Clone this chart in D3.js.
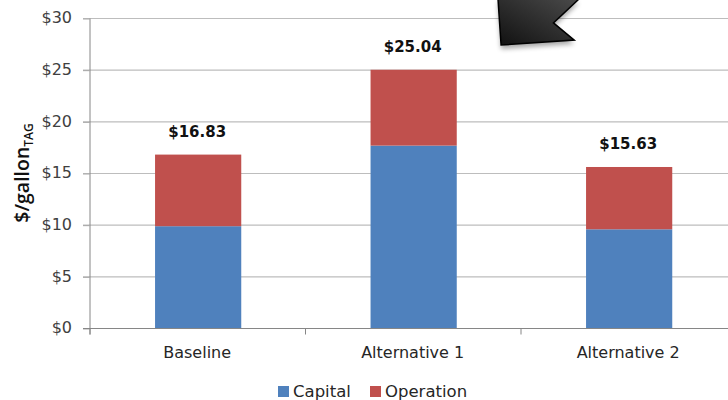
<!DOCTYPE html>
<html>
<head>
<meta charset="utf-8">
<script src="https://cdn.jsdelivr.net/npm/d3@7"></script>
<style>
html,body{margin:0;padding:0;background:#fff;}
svg{display:block;}
text{font-family:"DejaVu Sans",sans-serif;}
</style>
</head>
<body>
<div id="chart"></div>
<script>
const categories = ["Baseline", "Alternative 1", "Alternative 2"];
const capital = [9.9, 17.7, 9.6];
const operation = [6.93, 7.34, 6.03];
const totals = [16.83, 25.04, 15.63];
const seriesNames = ["Capital", "Operation"];
const seriesColors = ["#4f81bd", "#c0504d"];
const yTicks = [0, 5, 10, 15, 20, 25, 30];

const width = 728, height = 400;
const axisLeft = 90;
const svg = d3.select("#chart").append("svg").attr("width", width).attr("height", height);

const x = d3.scaleBand().domain(categories).range([axisLeft + 0.4, 736.9]).paddingInner(0.6).paddingOuter(0.3);
const y = d3.scaleLinear().domain([0, 30]).range([328.5, 18.5]);

// horizontal gridlines
svg.append("g").selectAll("line").data(yTicks.filter(d => d > 0)).join("line")
  .attr("x1", axisLeft - 7).attr("x2", width)
  .attr("y1", d => y(d)).attr("y2", d => y(d))
  .attr("stroke", "#bdbdbd").attr("stroke-width", 1.2);

// stacked bars
const stack = d3.stack().keys([0, 1]).value((row, k) => row[k]);
const rows = categories.map((c, i) => [capital[i], operation[i]]);
stack(rows).forEach((layer, k) => {
  svg.append("g").selectAll("rect").data(layer).join("rect")
    .attr("x", (d, i) => x(categories[i]))
    .attr("width", x.bandwidth())
    .attr("y", d => y(d[1]))
    .attr("height", d => y(d[0]) - y(d[1]))
    .attr("fill", seriesColors[k]);
});

// value axis
const yAxis = d3.axisLeft(y).tickValues(yTicks).tickFormat(d => "$" + d).tickSize(7).tickPadding(11);
const gy = svg.append("g").attr("transform", `translate(${axisLeft},0)`).call(yAxis);
gy.select(".domain").attr("stroke", "#868686").attr("d", `M0,${y(30)}V${y(0) + 6}`);
gy.selectAll(".tick line").attr("stroke", "#a8a8a8");
gy.selectAll("text").attr("font-size", 16).attr("fill", "#404040").attr("dy", "0.28em")
  .attr("font-family", '"DejaVu Sans",sans-serif');

// category axis
const step = x.step();
const gx = svg.append("g").attr("transform", `translate(0,${y(0)})`);
gx.append("line").attr("x1", axisLeft - 7).attr("x2", width).attr("stroke", "#868686").attr("stroke-width", 1.2);
gx.selectAll("line.sep").data(categories).join("line").attr("class", "sep")
  .attr("x1", (d, i) => axisLeft + step * i).attr("x2", (d, i) => axisLeft + step * i)
  .attr("y1", 0).attr("y2", 6).attr("stroke", "#868686");
gx.selectAll("text").data(categories).join("text")
  .attr("x", d => x(d) + x.bandwidth() / 2 - 1).attr("y", 29)
  .attr("text-anchor", "middle").attr("font-size", 16).attr("fill", "#262626")
  .text(d => d);

// totals above each bar
svg.append("g").selectAll("text").data(totals).join("text")
  .attr("x", (d, i) => x(categories[i]) + x.bandwidth() / 2 - 1)
  .attr("y", d => y(d) - 18)
  .attr("text-anchor", "middle").attr("font-size", 15).attr("font-weight", 700).attr("fill", "#111")
  .text(d => "$" + d.toFixed(2));

// axis title with subscript
const title = svg.append("text").attr("transform", "translate(29,173) rotate(-90)")
  .attr("text-anchor", "middle").attr("font-size", 19.5).attr("font-weight", 600)
  .attr("fill", "#111").style("font-family", '"Open Sans",sans-serif');
title.append("tspan").text("$/gallon");
title.append("tspan").attr("font-size", 12).attr("dy", 4).text("TAG");

// legend
const legendX = [278, 370];
const legend = svg.append("g").selectAll("g").data(seriesNames).join("g")
  .attr("transform", (d, i) => `translate(${legendX[i]},386)`);
legend.append("rect").attr("width", 11).attr("height", 11).attr("fill", (d, i) => seriesColors[i]);
legend.append("text").attr("x", 15).attr("y", 11).attr("font-size", 16.5).attr("fill", "#262626").text(d => d);

// dark callout arrow clipped by the top edge
const defs = svg.append("defs");
const grad = defs.append("linearGradient").attr("id", "calloutFill")
  .attr("x1", 0).attr("y1", 1).attr("x2", 1).attr("y2", 0);
grad.append("stop").attr("offset", 0).attr("stop-color", "#111");
grad.append("stop").attr("offset", 1).attr("stop-color", "#4a4a4a");
const blur = defs.append("filter").attr("id", "calloutShadow")
  .attr("x", "-20%").attr("y", "-20%").attr("width", "140%").attr("height", "150%");
blur.append("feGaussianBlur").attr("stdDeviation", 2.5);

const cx = d3.scaleLinear().domain([0, 1]).range([498, 575]);
const cy = d3.scaleLinear().domain([0, 1]).range([45, 0]);
const outline = d3.line().x(p => cx(p[0])).y(p => cy(p[1]))(
  [[0, 1.02], [0.04, 0], [0.99, 0.11], [0.72, 0.49], [1.05, 1.02]]);
svg.append("path").attr("d", outline).attr("transform", "translate(0,4)")
  .attr("fill", "#000").attr("opacity", 0.35).attr("filter", "url(#calloutShadow)");
svg.append("path").attr("d", outline).attr("fill", "url(#calloutFill)").attr("stroke", "#000").attr("stroke-width", 1.5);
</script>
</body>
</html>
